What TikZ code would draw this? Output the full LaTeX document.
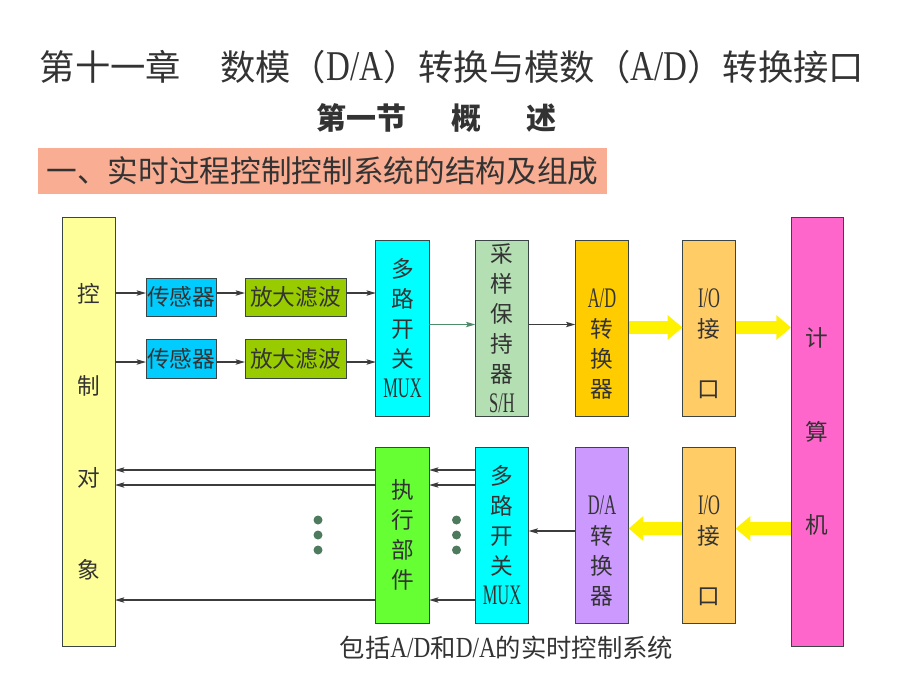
\documentclass[tikz,border=0pt]{standalone}
\usepackage{fontspec}
\setmainfont{Noto Sans CJK SC}
\newfontfamily\latinfont[FakeStretch=0.58,Scale=1.25]{Liberation Serif}
\newfontfamily\latintitle[FakeStretch=0.78,Scale=1.2]{Liberation Serif}
\newfontfamily\latincap[FakeStretch=0.8,Scale=1.15]{Liberation Serif}
\newcommand\lat[1]{{\latinfont #1}}
\newcommand\latt[1]{{\latintitle #1}}
\newcommand\latc[1]{{\latincap #1}}
\usetikzlibrary{arrows.meta,calc}
\definecolor{textc}{HTML}{333333}
\definecolor{bordc}{HTML}{3A4646}
\definecolor{linec}{HTML}{3C3C3C}
\definecolor{greenl}{HTML}{4F8A6B}
\definecolor{ctrlc}{HTML}{FFFF99}
\definecolor{sensc}{HTML}{00CCFF}
\definecolor{ampc}{HTML}{99CC00}
\definecolor{muxc}{HTML}{00FFFF}
\definecolor{shc}{HTML}{B3DFB3}
\definecolor{adc}{HTML}{FFCC00}
\definecolor{ioc}{HTML}{FFCC66}
\definecolor{compc}{HTML}{FF66CC}
\definecolor{exec}{HTML}{66FF33}
\definecolor{dac}{HTML}{CC99FF}
\definecolor{salmon}{HTML}{F9AE93}
\definecolor{dotc}{HTML}{4E7A5E}
\begin{document}
\begin{tikzpicture}[x=0.75pt,y=-0.75pt,
  box/.style={draw=bordc,line width=0.75pt,inner sep=0pt,outer sep=0pt,align=center,text=textc,font=\fontsize{17}{22.5}\selectfont},
  tall/.style={minimum width=40pt,minimum height=132pt},
  arr/.style={draw=linec,line width=0.9pt,-{Stealth[length=7pt,width=4pt,inset=1.5pt]}},
  big/.style={draw=yellow,line width=9.75pt,line cap=butt,-{Triangle[length=11pt,width=18pt]}},
  dot/.style={circle,fill=dotc,inner sep=0pt,minimum size=6.75pt},
  txt/.style={text=textc,inner sep=0pt}]
\useasboundingbox (0,0) rectangle (920,690);
\fill[white] (0,0) rectangle (920,690);

% titles
\node[txt,font=\fontsize{26.5}{30}\selectfont] (title) at (452,67) {第十一章\hspace{1.1em}数模（\latt{D/A}）转换与模数（\latt{A/D}）转换接口};
\node[txt,font=\fontsize{22.5}{26}\selectfont\bfseries] (sub) at (436,118) {第一节\hspace{1.5em}概\hspace{1.5em}述};
\node[fill=salmon,text=textc,inner sep=0pt,minimum width=426.75pt,minimum height=34.5pt,font=\fontsize{23}{26}\selectfont] (head) at (322.5,171) {一、实时过程控制控制系统的结构及组成};

% upper chain
\node[box,fill=ctrlc,minimum width=39.75pt,minimum height=321.75pt,font=\fontsize{17}{69}\selectfont] (ctrl) at (88.5,431.5) {控\\制\\对\\象};
\node[box,fill=sensc,minimum width=52.5pt,minimum height=28.5pt] (s1) at (181,297) {传感器};
\node[box,fill=sensc,minimum width=52.5pt,minimum height=29.25pt] (s2) at (181,358.5) {传感器};
\node[box,fill=ampc,minimum width=75.75pt,minimum height=28.5pt] (a1) at (295.5,297) {放大滤波};
\node[box,fill=ampc,minimum width=75.75pt,minimum height=29.25pt] (a2) at (295.5,358.5) {放大滤波};
\node[box,tall,fill=muxc] (mux1) at (402.5,328) {多\\路\\开\\关\\\lat{MUX}};
\node[box,tall,fill=shc] (sh) at (502,328) {采\\样\\保\\持\\器\\\lat{S/H}};
\node[box,tall,fill=adc] (ad) at (602,328) {\vphantom{口}\\[3pt]\lat{A/D}\\转\\换\\器};
\node[box,tall,fill=ioc] (io1) at (709,328) {\vphantom{口}\\[3pt]\lat{I/O}\\接\\\vphantom{口}\\口};
\node[box,fill=compc,minimum width=39pt,minimum height=321.75pt,font=\fontsize{17}{70}\selectfont] (comp) at (817,431.5) {计\\算\\机};

% lower chain
\node[box,tall,fill=exec] (exe) at (402.5,535) {执\\行\\部\\件};
\node[box,tall,fill=muxc] (mux2) at (502,535) {多\\路\\开\\关\\\lat{MUX}};
\node[box,tall,fill=dac] (da) at (602,535) {\vphantom{口}\\[3pt]\lat{D/A}\\转\\换\\器};
\node[box,tall,fill=ioc] (io2) at (709,535) {\vphantom{口}\\[3pt]\lat{I/O}\\接\\\vphantom{口}\\口};

% dots
\node[dot] (d1) at (318,520) {};
\node[dot] (d2) at (318,535) {};
\node[dot] (d3) at (318,550) {};
\node[dot] (d4) at (456.5,520) {};
\node[dot] (d5) at (456.5,535) {};
\node[dot] (d6) at (456.5,550) {};

% row levels
\coordinate (yA) at (0,293);
\coordinate (yB) at (0,362);
\coordinate (yC) at (0,324.5);
\coordinate (yY) at (0,327.5);
\coordinate (yZ) at (0,528.5);
\coordinate (yD) at (0,531);
\coordinate (r1) at (0,470);
\coordinate (r2) at (0,485);
\coordinate (r3) at (0,600);

% connectors
\draw[arr] (ctrl.east |- yA) -- (s1.west |- yA);
\draw[arr] (s1.east |- yA) -- (a1.west |- yA);
\draw[arr] (a1.east |- yA) -- (mux1.west |- yA);
\draw[arr] (ctrl.east |- yB) -- (s2.west |- yB);
\draw[arr] (s2.east |- yB) -- (a2.west |- yB);
\draw[arr] (a2.east |- yB) -- (mux1.west |- yB);
\draw[arr,draw=greenl] (mux1.east |- yC) -- (sh.west |- yC);
\draw[arr] (sh.east |- yC) -- (ad.west |- yC);
\draw[big] (ad.east |- yY) -- (io1.west |- yY);
\draw[big] (io1.east |- yY) -- (comp.west |- yY);
\draw[big] (comp.west |- yZ) -- (io2.east |- yZ);
\draw[big] (io2.west |- yZ) -- (da.east |- yZ);
\draw[arr] (da.west |- yD) -- (mux2.east |- yD);
\foreach \r in {r1,r2,r3}{
  \draw[arr] (mux2.west |- \r) -- (exe.east |- \r);
  \draw[arr] (exe.west |- \r) -- (ctrl.east |- \r);
}

% caption
\node[txt,font=\fontsize{19}{22}\selectfont] (cap) at (506.5,648) {包括\latc{A/D}和\latc{D/A}的实时控制系统};
\end{tikzpicture}
\end{document}
